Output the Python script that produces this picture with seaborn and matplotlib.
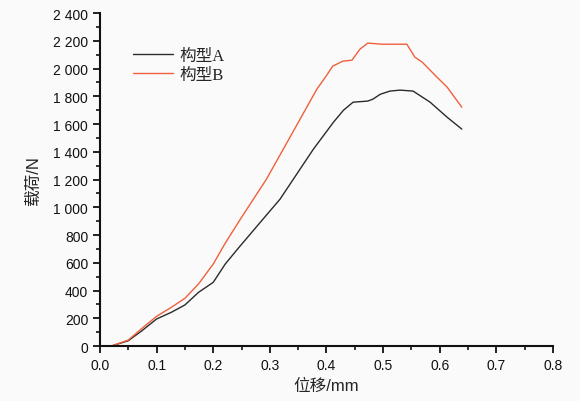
import matplotlib
matplotlib.use("Agg")
import matplotlib.pyplot as plt
import matplotlib.ticker as mticker
import seaborn as sns
import pandas as pd

sns.set_theme(style="ticks")
plt.rcParams["font.family"] = ["Liberation Sans", "Noto Sans CJK SC", "DejaVu Sans"]

# 构型A (black)
xa = [0, 0.02, 0.05, 0.074, 0.1, 0.126, 0.15, 0.174, 0.2, 0.221, 0.244, 0.28,
      0.318, 0.35, 0.377, 0.4, 0.412, 0.43, 0.447, 0.473, 0.482, 0.495, 0.512,
      0.53, 0.553, 0.583, 0.613, 0.639]
ya = [0, 0, 38, 110, 195, 243, 296, 387, 459, 590, 704, 877,
      1059, 1255, 1420, 1546, 1612, 1700, 1758, 1766, 1780, 1815, 1838,
      1845, 1838, 1758, 1650, 1564]

# 构型B (red)
xb = [0, 0.02, 0.05, 0.074, 0.1, 0.126, 0.15, 0.174, 0.2, 0.221, 0.25, 0.294,
      0.34, 0.383, 0.4, 0.411, 0.429, 0.445, 0.459, 0.473, 0.498, 0.542, 0.556,
      0.569, 0.595, 0.613, 0.639]
yb = [0, 0, 43, 127, 214, 279, 344, 447, 591, 740, 928, 1203,
      1538, 1852, 1950, 2018, 2054, 2061, 2140, 2184, 2176, 2176, 2083,
      2047, 1939, 1867, 1722]

df = pd.concat([
    pd.DataFrame({"x": xa, "y": ya, "type": "构型A"}),
    pd.DataFrame({"x": xb, "y": yb, "type": "构型B"}),
])

fig = plt.figure(figsize=(5.8, 4.02), dpi=100, facecolor="#fafafa")
ax = fig.add_axes([0.1724, 0.1368, 0.781, 0.828])
ax.set_facecolor("#fafafa")

sns.lineplot(data=df, x="x", y="y", hue="type", sort=False, estimator=None,
             palette={"构型A": "#2b2b2b", "构型B": "#f0603c"}, linewidth=1.0, ax=ax)

ax.set_xlim(0, 0.8)
ax.set_ylim(0, 2400)
ax.xaxis.set_major_locator(mticker.MultipleLocator(0.1))
ax.xaxis.set_minor_locator(mticker.MultipleLocator(0.05))
ax.yaxis.set_major_locator(mticker.MultipleLocator(200))
ax.yaxis.set_minor_locator(mticker.MultipleLocator(100))
ax.yaxis.set_major_formatter(mticker.FuncFormatter(
    lambda v, p: f"{int(v):,}".replace(",", " ")))
ax.xaxis.set_major_formatter(mticker.FormatStrFormatter("%.1f"))

for s in ["top", "right"]:
    ax.spines[s].set_visible(False)
for s in ["left", "bottom"]:
    ax.spines[s].set_linewidth(1.5)
    ax.spines[s].set_color("#111111")
ax.tick_params(which="major", length=5, width=1.3, labelsize=10, colors="#111111")
ax.tick_params(which="minor", length=3, width=1.2, colors="#111111")

ax.set_xlabel("位移/mm", fontsize=12, labelpad=4)
ax.set_ylabel("载荷/N", fontsize=12, labelpad=9)

leg = ax.legend(title=None, loc="upper left", bbox_to_anchor=(0.04, 0.94),
                frameon=False, fontsize=12, handlelength=2.4, handletextpad=0.35,
                labelspacing=0.15)
for t in leg.get_texts():
    t.set_family(["Liberation Serif", "Noto Sans CJK SC", "DejaVu Sans"])

fig.savefig("out.png", dpi=100, facecolor=fig.get_facecolor())
